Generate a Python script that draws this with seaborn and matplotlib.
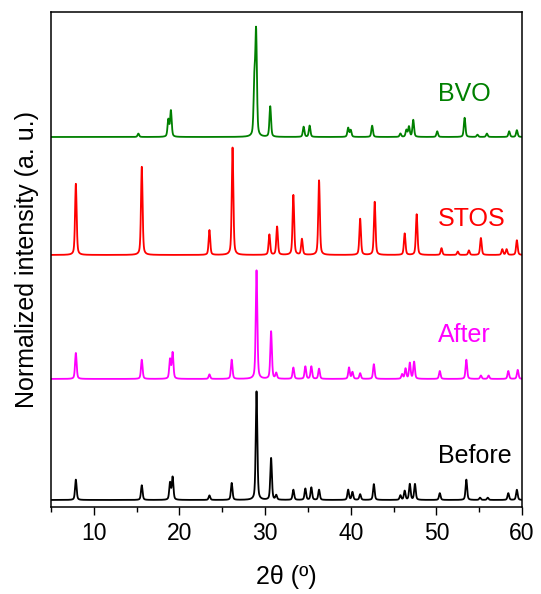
# XRD patterns: Before / After / STOS / BVO, stacked with offsets
import numpy as np
import pandas as pd
import seaborn as sns
import matplotlib.pyplot as plt
from matplotlib.ticker import MultipleLocator

# --- peak lists (2theta, relative height, max ~ 100) ---
before_pos = [7.9, 15.6, 18.9, 19.2, 23.5, 26.1, 29.0, 30.7, 31.3, 33.3, 34.7, 35.4,
              36.3, 39.7, 40.2, 41.1, 42.7, 45.8, 46.3, 46.9, 47.5, 50.4, 53.5, 55.1,
              56.0, 58.4, 59.4]
before_int = [18, 13, 15, 20, 4, 15, 96, 37, 4, 9, 10, 11,
              9, 9, 7, 5, 14, 4, 8, 14, 14, 6, 18, 2,
              2, 6, 9]

after_pos = [7.9, 15.6, 18.9, 19.2, 23.5, 26.1, 29.0, 30.7, 31.3, 33.3, 34.7, 35.4,
             36.3, 39.8, 40.2, 41.1, 42.7, 46.0, 46.4, 46.9, 47.4, 50.4, 53.5, 55.2,
             56.1, 58.4, 59.5]
after_int = [23, 17, 17, 23, 4, 17, 96, 42, 5, 10, 11, 11,
             9, 10, 6, 5, 13, 4, 9, 14, 15, 7, 17, 3,
             3, 7, 8]

stos_pos = [7.9, 15.6, 23.5, 26.2, 30.5, 31.4, 33.3, 34.3, 36.3, 41.1, 42.8, 46.3,
            47.7, 50.6, 52.5, 53.8, 55.2, 57.7, 58.2, 59.4]
stos_int = [63, 78, 22, 95, 18, 25, 53, 14, 66, 32, 47, 19,
            36, 6, 3, 4, 15, 5, 5, 13]

bvo_pos = [15.2, 18.7, 19.0, 28.75, 28.95, 30.6, 34.5, 35.2, 39.7, 40.0, 42.5, 45.8,
           46.5, 46.8, 47.3, 50.1, 53.3, 54.8, 55.9, 58.5, 59.4]
bvo_int = [3, 15, 23, 45, 90, 27, 9, 10, 8, 6, 10, 3,
           6, 9, 15, 5, 17, 2, 3, 5, 6]

samples = ["Before", "After", "STOS", "BVO"]
offsets = [0.062, 1.133, 2.23, 3.274]
colors = ["black", "#ff00ff", "#ff0000", "#008000"]
label_y = [0.451, 1.522, 2.549, 3.655]

peaks = {
    "Before": (before_pos, before_int),
    "After": (after_pos, after_int),
    "STOS": (stos_pos, stos_int),
    "BVO": (bvo_pos, bvo_int),
}

two_theta = np.linspace(5, 60, 2751)


def pattern(pos, inten, fwhm=0.22, eta=0.45):
    """Pseudo-Voigt sum of the peak list on the 2theta grid."""
    y = np.zeros_like(two_theta)
    s = fwhm / 2.3548
    g = fwhm / 2
    for p, h in zip(pos, inten):
        d = two_theta - p
        gauss = np.exp(-0.5 * (d / s) ** 2)
        lor = 1.0 / (1.0 + (d / g) ** 2)
        y += h / 100.0 * ((1 - eta) * gauss + eta * lor)
    return y


frames = []
for name, off in zip(samples, offsets):
    pos, inten = peaks[name]
    frames.append(pd.DataFrame({"two_theta": two_theta,
                                "intensity": pattern(pos, inten) + off,
                                "sample": name}))
df = pd.concat(frames, ignore_index=True)

sns.set_theme(style="ticks")
plt.rcParams["font.family"] = ["Liberation Sans", "DejaVu Sans"]

fig = plt.figure(figsize=(5.41, 5.94), dpi=100)
ax = fig.add_axes([0.0943, 0.1465, 0.8706, 0.8333])

sns.lineplot(data=df, x="two_theta", y="intensity", hue="sample",
             hue_order=samples, palette=dict(zip(samples, colors)),
             estimator=None, sort=False, lw=1.3, legend=False, ax=ax)

for name, c, ly in zip(samples, colors, label_y):
    ax.text(50.2, ly, name, color=c, fontsize=18, ha="left", va="center")

ax.set_xlim(5, 60)
ax.set_ylim(0, 4.38)
ax.set_yticks([])
ax.xaxis.set_major_locator(MultipleLocator(10))
ax.xaxis.set_minor_locator(MultipleLocator(5))
ax.tick_params(axis="x", which="major", direction="out", length=6, width=1.0,
               labelsize=16.5, pad=5, color="black", labelcolor="black")
ax.tick_params(axis="x", which="minor", direction="out", length=3.5, width=1.0,
               color="black")
for sp in ax.spines.values():
    sp.set_visible(True)
    sp.set_linewidth(1.1)
    sp.set_color("black")

ax.set_xlabel("2θ (º)", fontsize=18, labelpad=14, color="black")
ax.set_ylabel("Normalized intensity (a. u.)", fontsize=18, labelpad=9, color="black")

fig.savefig("out.png", dpi=100)
plt.close(fig)
